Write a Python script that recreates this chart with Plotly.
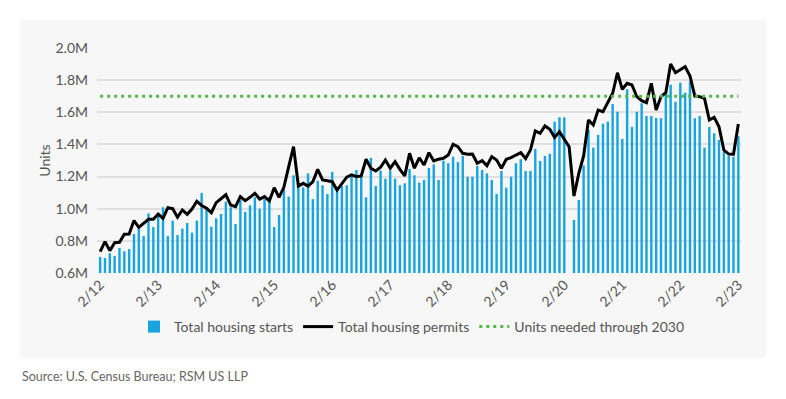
import plotly.graph_objects as go

# Month index 0 = Feb 2012 ... 132 = Feb 2023
tick_labels = ["2/12", "2/13", "2/14", "2/15", "2/16", "2/17", "2/18",
               "2/19", "2/20", "2/21", "2/22", "2/23"]

# Total housing starts (thousands, SAAR)
starts = [700, 693, 723, 706, 756, 735, 749, 843, 876, 830, 971, 886, 955, 1009, 830, 926, 836, 876, 911, 851, 926, 1098,
          1009, 888, 940, 967, 1044, 1009, 905, 1054, 980, 1021, 1071, 1000, 1059, 1075, 886, 961, 1127, 1075, 1208, 1133, 1133, 1220,
          1059, 1174, 1146, 1092, 1229, 1133, 1141, 1146, 1216, 1241, 1208, 1071, 1316, 1141, 1237, 1187, 1237, 1187, 1146, 1158, 1247, 1208, 1162,
          1179, 1253, 1276, 1179, 1299, 1283, 1324, 1291, 1328, 1199, 1199, 1266, 1241, 1220, 1179, 1092, 1235, 1131, 1199, 1283, 1308, 1235,
          1235, 1372, 1297, 1328, 1342, 1542, 1569, 1569, None, 930, 1054, 1270, 1490, 1380, 1459, 1529, 1542, 1652, 1604, 1434, 1743, 1509,
          1604, 1656, 1577, 1577, 1565, 1563, 1714, 1772, 1666, 1784, 1722, 1791, 1563, 1577, 1380, 1509, 1469, 1428, 1355, 1328, 1324, 1452]

# Total housing permits (thousands, SAAR)
permits = [733, 795, 739, 789, 791, 841, 843, 926, 884, 909, 934, 934, 967, 940, 1006, 1000, 947, 992, 965, 998, 1046, 1020,
           1003, 975, 1038, 1062, 1087, 1023, 1013, 1075, 1050, 1071, 1096, 1060, 1075, 1048, 1131, 1071, 1133, 1262, 1386, 1141, 1158, 1141,
           1168, 1245, 1179, 1174, 1168, 1116, 1158, 1196, 1210, 1199, 1204, 1308, 1252, 1235, 1258, 1303, 1252, 1293, 1245, 1204, 1345, 1252, 1317,
           1272, 1349, 1297, 1308, 1314, 1334, 1401, 1386, 1345, 1339, 1340, 1283, 1299, 1268, 1324, 1303, 1252, 1308, 1318, 1334, 1349, 1312,
           1365, 1484, 1469, 1515, 1494, 1444, 1479, 1432, 1386, 1079, 1220, 1328, 1552, 1521, 1614, 1604, 1666, 1718, 1846, 1743, 1780, 1770,
           1697, 1672, 1660, 1780, 1614, 1697, 1722, 1901, 1846, 1863, 1884, 1826, 1701, 1697, 1687, 1552, 1569, 1510, 1365, 1340, 1339, 1527]

units_needed = 1700  # thousands

y_ticks = [600, 800, 1000, 1200, 1400, 1600, 1800, 2000]
y_tick_labels = ["0.6M", "0.8M", "1.0M", "1.2M", "1.4M", "1.6M", "1.8M", "2.0M"]

months = list(range(len(starts)))
FONT = "Lato"
TXT = "#555555"

fig = go.Figure()
fig.add_trace(go.Bar(x=months, y=starts, name="Total housing starts",
                     marker=dict(color="#18a5df", line=dict(width=0))))
fig.add_trace(go.Scatter(x=months, y=permits, name="Total housing permits", mode="lines",
                         line=dict(color="#000000", width=3)))
fig.add_trace(go.Scatter(x=months, y=[units_needed] * len(months), name="Units needed through 2030",
                         mode="lines", line=dict(color="#55b948", width=3, dash="3px,4px")))

# page body has an 8px margin: the figure is drawn at (8, 8) in the window
OFF = 8
W, H = 786 - 2 * OFF, 399 - 2 * OFF
L = 97 - OFF
T = 48 - OFF
R = W - (741 - OFF)
B = H - (273 - OFF)
pw, ph = W - L - R, H - T - B

def px_x(xw):
    return (xw - OFF - L) / pw

def px_y(yw):
    return (H - B - (yw - OFF)) / ph

fig.add_shape(type="rect", xref="paper", yref="paper", layer="below",
              x0=px_x(20), x1=px_x(766), y0=px_y(358), y1=px_y(20),
              fillcolor="#f7f7f7", line=dict(width=0))

fig.add_annotation(text="Source: U.S. Census Bureau; RSM US LLP", xref="paper", yref="paper",
                   x=px_x(20), y=px_y(377), xanchor="left", yanchor="middle", showarrow=False,
                   font=dict(family=FONT, size=12.5, color="#666666"))

fig.update_layout(
    width=W, height=H,
    margin=dict(l=L, r=R, t=T, b=B, autoexpand=False),
    paper_bgcolor="white", plot_bgcolor="rgba(0,0,0,0)",
    bargap=0.5,
    font=dict(family=FONT, size=14, color=TXT),
    showlegend=True,
    legend=dict(orientation="h", x=px_x(412), xanchor="center", y=px_y(327), yanchor="middle",
                font=dict(family=FONT, size=14, color=TXT), bgcolor="rgba(0,0,0,0)",
                traceorder="normal"),
    xaxis=dict(range=[-0.65, 132.55], tickmode="array",
               tickvals=[12 * k for k in range(len(tick_labels))], ticktext=tick_labels,
               tickangle=-45, showgrid=False, zeroline=False, showline=False,
               ticks="", tickfont=dict(family=FONT, size=14, color=TXT)),
    yaxis=dict(range=[600, 2000], tickmode="array", tickvals=y_ticks, ticktext=y_tick_labels,
               showgrid=True, gridcolor="#e0e0e0", gridwidth=1.5, zeroline=False, showline=False,
               ticks="", ticklabelstandoff=8,
               title=dict(text="Units", font=dict(family=FONT, size=14, color=TXT), standoff=1),
               tickfont=dict(family=FONT, size=14, color=TXT)),
)

fig.write_html("out.html")
